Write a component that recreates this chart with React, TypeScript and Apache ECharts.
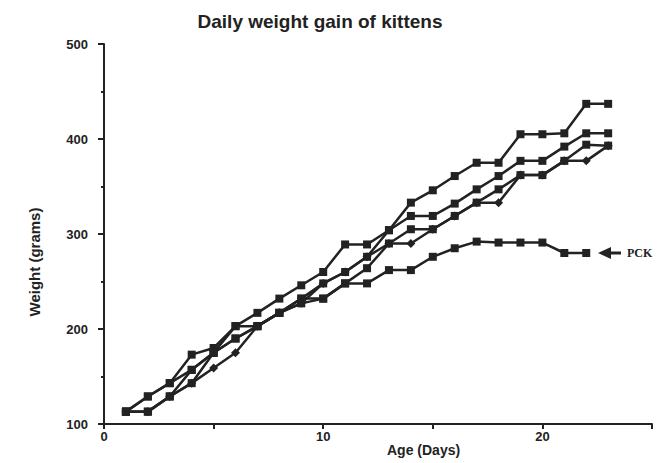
import React, { useEffect, useRef } from "react";
import * as echarts from "echarts";

const days = [1,2,3,4,5,6,7,8,9,10,11,12,13,14,15,16,17,18,19,20,21,22,23];
const kittenA = [113,113,129,143,175,203,217,232,246,260,289,289,304,333,346,361,375,375,405,405,406,437,437];
const kittenB = [113,129,143,157,175,190,203,217,232,248,260,276,304,319,319,332,347,361,377,377,392,406,406];
const kittenC = [113,113,129,157,175,190,203,217,227,232,248,264,290,305,305,319,333,347,362,362,377,394,393];
const kittenD = [113,113,129,143,159,175,203,217,227,248,260,276,290,290,305,319,333,333,362,362,377,377,393];
const kittenPCK = [113,129,143,173,180,203,203,217,232,232,248,248,262,262,276,285,292,291,291,291,280,280];
const yTicks = [100,200,300,400,500];
const xLabels = [0,10,20];

const INK = "#222";

export default function App() {
  const ref = useRef<HTMLDivElement>(null);
  useEffect(() => {
    if (!ref.current) return;
    const chart = echarts.init(ref.current, null, { renderer: "svg" });
    const mk = (name: string, vals: number[], symbol: string) => ({
      name,
      type: "line",
      data: vals.map((v, i) => [days[i], v]),
      symbol,
      symbolSize: symbol === "diamond" ? 9 : 8,
      lineStyle: { color: INK, width: 2.5 },
      itemStyle: { color: INK },
      z: 3,
    });
    chart.setOption({
      animation: false,
      backgroundColor: "#fff",
      title: {
        text: "Daily weight gain of kittens",
        left: 315,
        textAlign: "center",
        top: 7,
        textStyle: { fontFamily: "Liberation Sans", fontWeight: "bold", fontSize: 19, color: INK },
      },
      grid: { left: 104, right: 14, top: 44, bottom: 39 },
      xAxis: {
        type: "value",
        min: 0,
        max: 25,
        interval: 5,
        axisLine: { show: true, lineStyle: { color: INK, width: 2 } },
        axisTick: { show: true, length: 5, lineStyle: { color: INK, width: 2 } },
        splitLine: { show: false },
        axisLabel: {
          color: INK,
          fontFamily: "Liberation Sans",
          fontWeight: "bold",
          fontSize: 13,
          margin: 6,
          formatter: (v: number) => (xLabels.includes(v) ? String(v) : ""),
        },
      },
      yAxis: {
        type: "value",
        min: 100,
        max: 500,
        interval: 100,
        axisLine: { show: true, lineStyle: { color: INK, width: 2 } },
        axisTick: { show: true, length: 6, lineStyle: { color: INK, width: 2 } },
        minorTick: { show: true, splitNumber: 2, length: 3, lineStyle: { color: INK, width: 2 } },
        splitLine: { show: false },
        axisLabel: {
          color: INK,
          fontFamily: "Liberation Sans",
          fontWeight: "bold",
          fontSize: 13,
          margin: 16,
          formatter: (v: number) => (yTicks.includes(v) ? String(v) : ""),
        },
      },
      series: [
        mk("A", kittenA, "rect"),
        mk("B", kittenB, "rect"),
        mk("C", kittenC, "rect"),
        mk("D", kittenD, "diamond"),
        mk("PCK", kittenPCK, "rect"),
      ],
      graphic: [
        {
          type: "text",
          left: 387,
          top: 443,
          style: { text: "Age (Days)", fontFamily: "Liberation Sans", fontWeight: "bold", fontSize: 14, fill: INK },
        },
        {
          type: "text",
          x: 34,
          y: 262,
          rotation: Math.PI / 2,
          style: {
            text: "Weight (grams)",
            fontFamily: "Liberation Sans",
            fontWeight: "bold",
            fontSize: 15,
            fill: INK,
            align: "center",
            verticalAlign: "middle",
          },
        },
        {
          type: "polygon",
          shape: { points: [[598, 253], [611, 247], [611, 259]] },
          style: { fill: INK },
        },
        {
          type: "line",
          shape: { x1: 608, y1: 253, x2: 621, y2: 253 },
          style: { stroke: INK, lineWidth: 3 },
        },
        {
          type: "text",
          x: 627,
          y: 247,
          style: { text: "PCK", fontFamily: "Liberation Serif", fontWeight: "bold", fontSize: 12, fill: INK },
        },
      ],
    });
    return () => chart.dispose();
  }, []);
  return <div ref={ref} style={{ position: "fixed", left: 0, top: 0, width: 666, height: 463 }} />;
}
